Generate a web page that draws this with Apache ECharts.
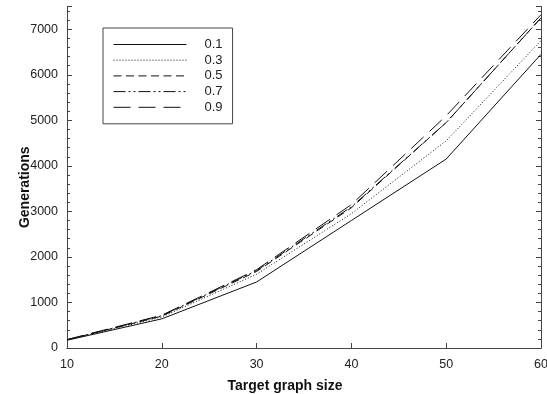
<!DOCTYPE html>
<html>
<head>
<meta charset="utf-8">
<script src="https://cdn.jsdelivr.net/npm/echarts@6/dist/echarts.min.js"></script>
<style>html,body{margin:0;padding:0;background:#fff}#c{width:547px;height:394px}</style>
</head>
<body>
<div id="c"></div>
<script>
var sizes = [10, 20, 30, 40, 50, 60];
var seriesNames = ['0.1', '0.3', '0.5', '0.7', '0.9'];
var s01 = [170, 640, 1450, 2800, 4150, 6450];
var s03 = [175, 680, 1620, 2950, 4550, 6750];
var s05 = [180, 700, 1680, 3080, 4950, 7250];
var s07 = [180, 710, 1700, 3100, 4950, 7250];
var s09 = [185, 720, 1720, 3150, 5100, 7320];
var dashes = ['solid', [1, 2], [8, 4.5], [12, 3, 2, 3, 2, 3], [17, 8]];
var values = [s01, s03, s05, s07, s09];

var font = 'Liberation Sans, Arial, sans-serif';
var chart = echarts.init(document.getElementById('c'), null, {renderer: 'canvas'});
var series = values.map(function (v, i) {
  return {
    name: seriesNames[i],
    type: 'line',
    symbol: 'none',
    data: v.map(function (y, j) { return [sizes[j], y]; }),
    lineStyle: {color: '#111', width: 1, type: dashes[i]},
    itemStyle: {color: '#111'},
    emphasis: {disabled: true},
    animation: false
  };
});
var axisLine = {show: true, lineStyle: {color: '#444', width: 1}};
chart.setOption({
  animation: false,
  grid: {left: 67, right: 6, top: 6.5, bottom: 46, containLabel: false, outerBoundsMode: 'none'},
  legend: {
    orient: 'vertical',
    left: 103, top: 28,
    padding: [10, 10, 10, 10],
    borderColor: '#444', borderWidth: 1,
    icon: 'inherit',
    itemWidth: 73, itemHeight: 14, itemGap: 2.7,
    itemStyle: {opacity: 0},
    lineStyle: {width: 1},
    textStyle: {fontFamily: font, fontSize: 13, color: '#222', padding: [0, 0, 0, 13]},
    data: seriesNames
  },
  xAxis: [{
    type: 'value', min: 10, max: 60, interval: 10,
    name: 'Target graph size', nameLocation: 'middle', nameGap: 31,
    nameMoveOverlap: false,
    nameTextStyle: {fontFamily: font, fontSize: 14, fontWeight: 'bold', color: '#111', padding: [0, 38, 0, 0]},
    axisLine: axisLine,
    axisTick: {show: true, inside: true, length: 5, lineStyle: {color: '#444'}},
    axisLabel: {fontFamily: font, fontSize: 12.5, color: '#222', margin: 10},
    splitLine: {show: false}
  }, {
    type: 'value', position: 'top', min: 10, max: 60, interval: 10,
    axisLine: axisLine, axisTick: {show: false}, axisLabel: {show: false}, splitLine: {show: false}
  }],
  yAxis: [{
    type: 'value', min: 0, max: 7500, interval: 1000,
    name: 'Generations', nameLocation: 'middle', nameGap: 35,
    nameMoveOverlap: false,
    nameTextStyle: {fontFamily: font, fontSize: 14, fontWeight: 'bold', color: '#111', padding: [0, 20, 0, 0]},
    axisLine: axisLine,
    axisTick: {show: true, inside: true, length: 5, lineStyle: {color: '#444'}},
    minorTick: {show: true, splitNumber: 5, length: 3, lineStyle: {color: '#444'}},
    axisLabel: {fontFamily: font, fontSize: 12.5, color: '#222', margin: 9, showMaxLabel: false,
      formatter: function (v) { return String(v); }},
    splitLine: {show: false}
  }, {
    type: 'value', position: 'right', min: 0, max: 7500, interval: 1000,
    axisLine: axisLine,
    axisTick: {show: true, inside: true, length: 5, lineStyle: {color: '#444'}},
    minorTick: {show: true, splitNumber: 5, length: 3, lineStyle: {color: '#444'}},
    axisLabel: {show: false},
    splitLine: {show: false}
  }],
  series: series
});
</script>
</body>
</html>
